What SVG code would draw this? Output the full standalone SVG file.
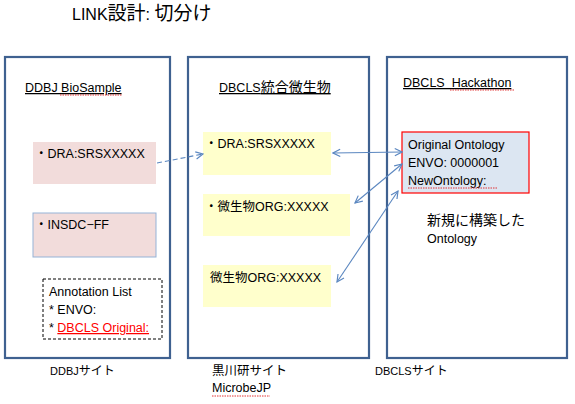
<svg xmlns="http://www.w3.org/2000/svg" width="575" height="404" viewBox="0 0 575 404">
<style>
text{font-family:"Liberation Sans","Noto Sans CJK JP",sans-serif;font-size:12.5px;fill:#000}
.title{font-size:16px}
.cjk{font-size:14px}
.tcjk{font-size:19px}
.site{font-size:11px}
.panel{fill:#fff;stroke:#3f6190;stroke-width:2.2}
.pink{fill:#f2dcdb}
.yellow{fill:#ffffcc}
.conn{fill:none;stroke:#5b87c0;stroke-width:1.1}
.spell{fill:none;stroke:#e02020;stroke-width:0.9;stroke-dasharray:1.5 1}
</style>
<defs>
<marker id="ah" viewBox="0 0 10 10" refX="9" refY="5" markerWidth="9" markerHeight="9" orient="auto-start-reverse" markerUnits="userSpaceOnUse">
<path d="M1,1 L9,5 L1,9" fill="none" stroke="#5b87c0" stroke-width="1.3"/>
</marker>
</defs>
<text class="title" x="72" y="20">LINK<tspan class="tcjk">設計</tspan>: <tspan class="tcjk">切分け</tspan></text>

<g id="ddbj">
<rect class="panel" x="5" y="57" width="165" height="301"/>
<text x="25" y="92" text-decoration="underline">DDBJ BioSample</text>
<path class="spell" d="M60,95 H122"/>
<text class="site" x="50" y="375">DDBJ<tspan font-size="12">サイト</tspan></text>
</g>
<g id="ddbj-dra">
<rect class="pink" x="33" y="142" width="123" height="42"/>
<text x="35" y="158">・DRA:SRSXXXXX</text>
</g>
<g id="ddbj-insdc">
<rect class="pink" x="33" y="213" width="123" height="44" stroke="#95b3d7" stroke-width="1"/>
<text x="35" y="229">・INSDC−FF</text>
</g>
<g id="annotation">
<rect x="43" y="279" width="119" height="60" fill="#fff" stroke="#000" stroke-width="1" stroke-dasharray="3 2"/>
<text x="49" y="296" font-size="13">Annotation List</text>
<text x="49" y="314" font-size="13">* ENVO:</text>
<text x="49" y="332" font-size="13">* <tspan fill="#ff0000" text-decoration="underline">DBCLS Original:</tspan></text>
</g>

<g id="microbe">
<rect class="panel" x="188" y="57" width="181" height="301"/>
<text x="219" y="92" text-decoration="underline">DBCLS<tspan class="cjk">統合微生物</tspan></text>
<text x="212" y="375">黒川研サイト</text>
<text x="212" y="392">MicrobeJP</text>
<path class="spell" d="M212,396 H270"/>
</g>
<g id="mb-dra">
<rect class="yellow" x="203" y="132" width="128" height="43"/>
<text x="205" y="148">・DRA:SRSXXXXX</text>
</g>
<g id="mb-org1">
<rect class="yellow" x="203" y="194" width="147" height="42"/>
<text x="205" y="211">・微生物ORG:XXXXX</text>
</g>
<g id="mb-org2">
<rect class="yellow" x="203" y="265" width="128" height="42"/>
<text x="210" y="282">微生物ORG:XXXXX</text>
</g>

<g id="dbcls">
<rect class="panel" x="387" y="57" width="180" height="301"/>
<text x="403" y="87" text-decoration="underline" xml:space="preserve">DBCLS  Hackathon</text>
<path class="spell" d="M450,90 H515"/>
<text class="site" x="375" y="375">DBCLS<tspan font-size="12">サイト</tspan></text>
<text class="cjk" x="427" y="225">新規に構築した</text>
<text x="427" y="243" font-size="13">Ontology</text>
</g>
<g id="ontology">
<rect x="402" y="132" width="127" height="61" fill="#dce6f2" stroke="#ff0000" stroke-width="1.2"/>
<text x="408" y="149" font-size="13">Original Ontology</text>
<text x="408" y="167">ENVO: 0000001</text>
<text x="408" y="185">NewOntology:</text>
<path class="spell" d="M408,188 H497"/>
</g>

<g id="connectors">
<path class="conn" d="M157,163 L203,154" stroke-dasharray="5 3" marker-end="url(#ah)"/>
<path class="conn" d="M333,153 L402,152" marker-start="url(#ah)" marker-end="url(#ah)"/>
<path class="conn" d="M355,203 L402,164" marker-start="url(#ah)" marker-end="url(#ah)"/>
<path class="conn" d="M337,282 L398,191" marker-start="url(#ah)" marker-end="url(#ah)"/>
</g>
</svg>
